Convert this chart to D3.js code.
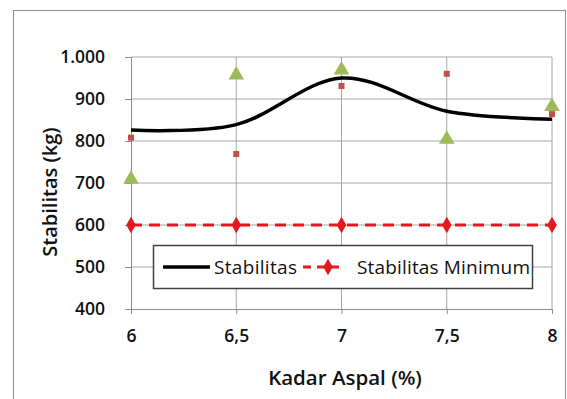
<!DOCTYPE html>
<html>
<head>
<meta charset="utf-8">
<script src="https://cdn.jsdelivr.net/npm/d3@7"></script>
<style>
  body{margin:0;background:#fff;}
  svg{display:block;font-family:"Open Sans",sans-serif;}
</style>
</head>
<body>
<svg id="chart" width="567" height="399"></svg>
<script>
const kadar=[6,6.5,7,7.5,8];
const stabilitas=[826,839,950,871,852];
const stabilitasMin=[600,600,600,600,600];
const sampelA=[808,769,931,960,864];
const sampelB=[709,957,969,804,882];
const yTicks=[400,500,600,700,800,900,1000];
const xTicks=[6,6.5,7,7.5,8];

const svg=d3.select("#chart");
const w=567,h=399,m={top:57,right:15,bottom:90,left:131};

svg.append("rect")
  .attr("x",13.5).attr("y",10.5)
  .attr("width",552).attr("height",400)
  .attr("fill","#fff").attr("stroke","#8c8c8c").attr("stroke-width",1);

const x=d3.scaleLinear().domain([6,8]).range([m.left,w-m.right]);
const y=d3.scaleLinear().domain([400,1000]).range([h-m.bottom,m.top]);
const fmt=v=>v.toString().replace(".",",");
const fmtY=v=>v>=1000?d3.format(",")(v).replace(",","."):v;

// gridlines
svg.append("g").selectAll("line").data(yTicks.slice(1)).join("line")
  .attr("x1",m.left).attr("x2",w-m.right)
  .attr("y1",d=>y(d)).attr("y2",d=>y(d))
  .attr("stroke","#a6a6a6");
svg.append("g").selectAll("line").data(xTicks.slice(1)).join("line")
  .attr("x1",d=>x(d)).attr("x2",d=>x(d))
  .attr("y1",m.top).attr("y2",h-m.bottom)
  .attr("stroke","#a6a6a6");

const xAxis=svg.append("g")
  .attr("transform",`translate(0,${h-m.bottom})`)
  .call(d3.axisBottom(x).tickValues(xTicks).tickFormat(fmt).tickSizeInner(5).tickSizeOuter(0).tickPadding(16));
const yAxis=svg.append("g")
  .attr("transform",`translate(${m.left},0)`)
  .call(d3.axisLeft(y).tickValues(yTicks).tickFormat(fmtY).tickSizeInner(6).tickSizeOuter(0).tickPadding(20));
[xAxis,yAxis].forEach(a=>{
  a.select(".domain").attr("stroke","#8c8c8c");
  a.selectAll(".tick line").attr("stroke","#8c8c8c");
  a.selectAll("text").attr("font-size","17.5px").attr("font-weight",600)
    .attr("fill","#111").attr("font-family","'Open Sans',sans-serif");
});

// smoothed stabilitas line
const line=d3.line().x((d,i)=>x(kadar[i])).y(d=>y(d)).curve(d3.curveCatmullRom.alpha(0));
svg.append("path").datum(stabilitas)
  .attr("d",line).attr("fill","none").attr("stroke","#000").attr("stroke-width",3.5);

// minimum line
const minLine=d3.line().x((d,i)=>x(kadar[i])).y(d=>y(d));
svg.append("path").datum(stabilitasMin)
  .attr("d",minLine).attr("fill","none").attr("stroke","#e3191e")
  .attr("stroke-width",3).attr("stroke-dasharray","11,7");
const diamond=d3.symbol().type(d3.symbolDiamond).size(80);
svg.append("g").selectAll("path").data(stabilitasMin).join("path")
  .attr("d",diamond)
  .attr("transform",(d,i)=>`translate(${x(kadar[i])},${y(d)})`)
  .attr("fill","#e3191e");

// markers
svg.append("g").selectAll("rect").data(sampelA).join("rect")
  .attr("x",(d,i)=>x(kadar[i])-3).attr("y",d=>y(d)-3)
  .attr("width",6).attr("height",6).attr("fill","#c0504d");
const tri=d3.symbol().type(d3.symbolTriangle).size(105);
svg.append("g").selectAll("path").data(sampelB).join("path")
  .attr("d",tri)
  .attr("transform",(d,i)=>`translate(${x(kadar[i])},${y(d)})`)
  .attr("fill","#9bbb59");

// legend
const lg=svg.append("g");
lg.append("rect").attr("x",153.5).attr("y",245.5).attr("width",379).attr("height",43)
  .attr("fill","#fff").attr("stroke","#404040").attr("stroke-width",1.5);
lg.append("line").attr("x1",163).attr("x2",210).attr("y1",267).attr("y2",267)
  .attr("stroke","#000").attr("stroke-width",3.5);
lg.append("text").attr("x",214).attr("y",274).attr("font-size","19px").attr("fill","#111")
  .attr("textLength",83).text("Stabilitas");
lg.append("line").attr("x1",303).attr("x2",340).attr("y1",267).attr("y2",267)
  .attr("stroke","#e3191e").attr("stroke-width",3).attr("stroke-dasharray","8,6");
lg.append("path").attr("d",diamond).attr("transform","translate(328,267)").attr("fill","#e3191e");
lg.append("text").attr("x",357).attr("y",274).attr("font-size","19px").attr("fill","#111")
  .attr("textLength",173).text("Stabilitas Minimum");

// titles
svg.append("text").attr("x",345).attr("y",385).attr("text-anchor","middle")
  .attr("font-size","20.5px").attr("font-weight",600).attr("fill","#111").text("Kadar Aspal (%)");
svg.append("text").attr("transform","translate(57,192) rotate(-90)").attr("text-anchor","middle")
  .attr("font-size","20px").attr("font-weight",600).attr("fill","#111").text("Stabilitas (kg)");
</script>
</body>
</html>
